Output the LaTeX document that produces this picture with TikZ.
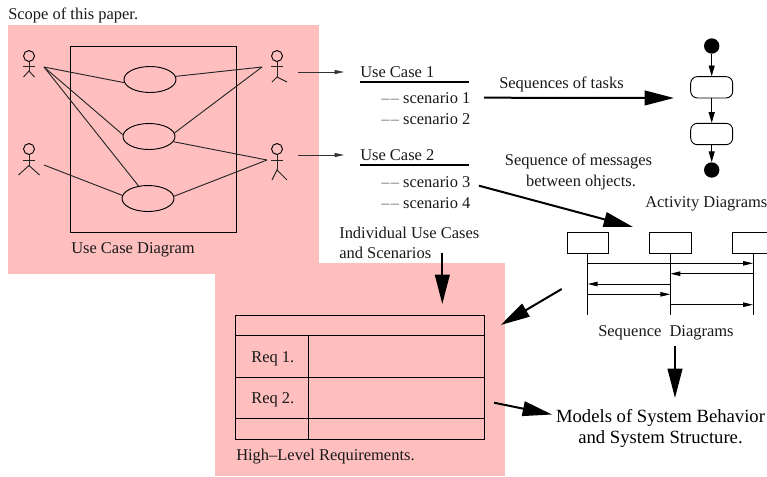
\documentclass[tikz,border=0pt]{standalone}
\usepackage{fontspec}
\setmainfont{Liberation Serif}
\usetikzlibrary{arrows.meta,shapes.geometric}
\definecolor{scopepink}{HTML}{FFBFBF}
\tikzset{
  thin line/.style={line width=0.7pt,black!85},
  bigarrow/.style={line width=1.5pt,-{Triangle[length=22pt,width=11pt]}},
  smallarrow/.style={line width=0.6pt,black!80,-{Triangle[length=7pt,width=3pt]}},
  flowarrow/.style={line width=0.7pt,-{Triangle[length=8pt,width=4.5pt]}},
  msg/.style={line width=0.7pt,-{Triangle[length=7.5pt,width=3.4pt]}},
  uc/.style={draw,line width=0.7pt,ellipse,minimum width=39pt,minimum height=19.5pt,inner sep=0pt},
  lbl/.style={anchor=base west,inner sep=0pt,font=\fontsize{12.35pt}{14pt}\selectfont,text=black!90},
  lblc/.style={anchor=base,inner sep=0pt,font=\fontsize{12.35pt}{14pt}\selectfont,text=black!90},
  bigl/.style={anchor=base,inner sep=0pt,font=\fontsize{14pt}{16pt}\selectfont},
  act/.style={draw,line width=0.7pt,rounded corners=5pt,minimum width=31.5pt,minimum height=16pt,inner sep=0pt},
  obj/.style={draw,line width=0.7pt,minimum width=31pt,minimum height=15.7pt,inner sep=0pt},
  dot/.style={circle,fill=black,minimum size=11.5pt,inner sep=0pt},
}
\newcommand{\stick}[9]{%
 % name, head x, head y, arm y, joint y, foot y, half arm, left foot dx, right foot dx
 \node[draw,line width=0.7pt,circle,minimum size=8.2pt,inner sep=0pt] (#1) at (#2,#3) {};
 \coordinate (#1j) at (#2,#5);
 \draw[thin line] (#1.south) -- (#1j);
 \draw[thin line] (#2-#7,#4) -- (#2+#7,#4);
 \draw[thin line] (#2-#8,#6) -- (#1j) -- (#2+#9,#6);
}
\newcommand{\dd}{\textcolor{black!55}{–\kern1pt–}}
\begin{document}
\begin{tikzpicture}[x=0.75pt,y=-0.75pt]
\useasboundingbox (0,0) rectangle (767,476);
\fill[scopepink] (8,25) rectangle (319,274);
\fill[scopepink] (215,263) rectangle (505,476);
\fill[scopepink] (319,263) rectangle (330,274);

\node[lbl] (scope) at (8,19.5) {Scope of this paper.};
\node[draw,line width=0.7pt,minimum width=124.5pt,minimum height=139.5pt,inner sep=0pt] (sys) at (153,139) {};
\node[lbl] (uclabel) at (71,253) {Use Case Diagram};

\node[uc] (e1) at (150,79.5) {};
\node[uc] (e2) at (149,136.5) {};
\node[uc] (e3) at (148,198.5) {};

\stick{a1}{29}{56}{66.7}{71}{77}{6}{5.5}{5.5}
\stick{a2}{29}{149}{160}{165.5}{175}{6}{10.5}{10.5}
\stick{a3}{277}{56}{66.7}{77}{82}{6}{5}{10}
\stick{a4}{277}{149}{160}{170}{180}{6}{5}{10}

\coordinate (p1) at (44,67);
\coordinate (p2) at (44,165);
\coordinate (p3) at (262,67);
\coordinate (p4) at (267,160);
\draw[thin line] (p1) -- (e1.187);
\draw[thin line] (p1) -- (e2.176);
\draw[thin line] (p1) -- (e3.127);
\draw[thin line] (p2) -- (e3.173);
\draw[thin line] (e1.7) -- (p3);
\draw[thin line] (e2.8) -- (p3);
\draw[thin line] (e2.-12) -- (p4);
\draw[thin line] (e3.5) -- (p4);

% use cases
\node[lbl] (uc1) at (360,77) {Use Case 1};
\node[lbl] (s1) at (381,103) {\dd{} scenario 1};
\node[lbl] (s2) at (381,124) {\dd{} scenario 2};
\node[lbl] (uc2) at (360,160) {Use Case 2};
\node[lbl] (s3) at (381,187) {\dd{} scenario 3};
\node[lbl] (s4) at (381,208) {\dd{} scenario 4};
\coordinate (u1a) at (360,82); \coordinate (u1b) at (468.5,82);
\coordinate (u2a) at (360,165); \coordinate (u2b) at (468.5,165);
\draw[line width=1.1pt] (u1a) -- (u1b);
\draw[line width=1.1pt] (u2a) -- (u2b);
\coordinate (t1a) at (298,72); \coordinate (t1b) at (344,72);
\coordinate (t2a) at (298,155); \coordinate (t2b) at (344,155);
\draw[smallarrow] (t1a) -- (t1b);
\draw[smallarrow] (t2a) -- (t2b);

% activity diagram
\node[dot] (start) at (711.7,46) {};
\node[act] (b1) at (711.7,87.3) {};
\node[act] (b2) at (711.7,134) {};
\node[dot] (stop) at (711.7,170) {};
\draw[flowarrow] (start) -- (b1);
\draw[flowarrow] (b1) -- (b2);
\draw[flowarrow] (b2) -- (stop);
\node[lbl] (adl) at (645,207) {Activity Diagrams};

% sequence diagram
\node[obj] (o1) at (587.7,242.5) {};
\node[obj] (o2) at (670.3,242.5) {};
\node[obj] (o3) at (753,242.5) {};
\coordinate (l1) at (587.7,315);
\coordinate (l2) at (670.3,315);
\coordinate (l3) at (753,315);
\draw[line width=0.7pt] (o1.south) -- (l1);
\draw[line width=0.7pt] (o2.south) -- (l2);
\draw[line width=0.7pt] (o3.south) -- (l3);
\foreach \nm/\yy in {a/263.3,b/273.7,c/284,d/294.3,e/304.7}{
  \coordinate (m1\nm) at (587.7,\yy);
  \coordinate (m2\nm) at (670.3,\yy);
  \coordinate (m3\nm) at (753,\yy);
}
\draw[msg] (m1a) -- (m3a);
\draw[msg] (m3b) -- (m2b);
\draw[msg] (m2c) -- (m1c);
\draw[msg] (m1d) -- (m2d);
\draw[msg] (m2e) -- (m3e);
\node[lbl] (sdl) at (598,336) {Sequence\ \ Diagrams};

% table
\node[draw,line width=0.7pt,minimum width=186.5pt,minimum height=93pt,inner sep=0pt] (tbl) at (360,377) {};
\coordinate (r1a) at (235.7,335.7); \coordinate (r1b) at (484.3,335.7);
\coordinate (r2a) at (235.7,377); \coordinate (r2b) at (484.3,377);
\coordinate (r3a) at (235.7,418.3); \coordinate (r3b) at (484.3,418.3);
\coordinate (va) at (308.3,335.7); \coordinate (vb) at (308.3,439);
\draw[line width=0.7pt] (r1a) -- (r1b);
\draw[line width=0.7pt] (r2a) -- (r2b);
\draw[line width=0.7pt] (r3a) -- (r3b);
\draw[line width=0.7pt] (va) -- (vb);
\node[lbl] (r1) at (251,362) {Req 1.};
\node[lbl] (r2) at (251,403) {Req 2.};
\node[lbl] (hl) at (236,460) {High–Level Requirements.};

% other labels
\node[lbl] (seqt) at (499,88) {Sequences of tasks};
\node[lblc] (seqm1) at (578.5,165) {Sequence of messages};
\node[lblc] (seqm2) at (581,186) {between ohjects.};
\node[lbl] (ind1) at (339,238) {Individual Use Cases};
\node[lbl] (ind2) at (339,258) {and Scenarios};
\node[bigl] (mod1) at (660.5,422) {Models of System Behavior};
\node[bigl] (mod2) at (660.5,443) {and System Structure.};

% big arrows
\coordinate (A1a) at (484,97.7); \coordinate (A1b) at (674,98);
\coordinate (A2a) at (479,185.7); \coordinate (A2b) at (633,227);
\coordinate (A3a) at (561.7,289); \coordinate (A3b) at (500.7,325);
\coordinate (A4a) at (442.3,253); \coordinate (A4b) at (442.3,304);
\coordinate (A5a) at (494,402.7); \coordinate (A5b) at (552,414.5);
\coordinate (A6a) at (675,346); \coordinate (A6b) at (675,398);
\draw[bigarrow] (A1a) -- (A1b);
\draw[bigarrow] (A2a) -- (A2b);
\draw[bigarrow] (A3a) -- (A3b);
\draw[bigarrow] (A4a) -- (A4b);
\draw[bigarrow] (A5a) -- (A5b);
\draw[bigarrow] (A6a) -- (A6b);
\end{tikzpicture}
\end{document}
